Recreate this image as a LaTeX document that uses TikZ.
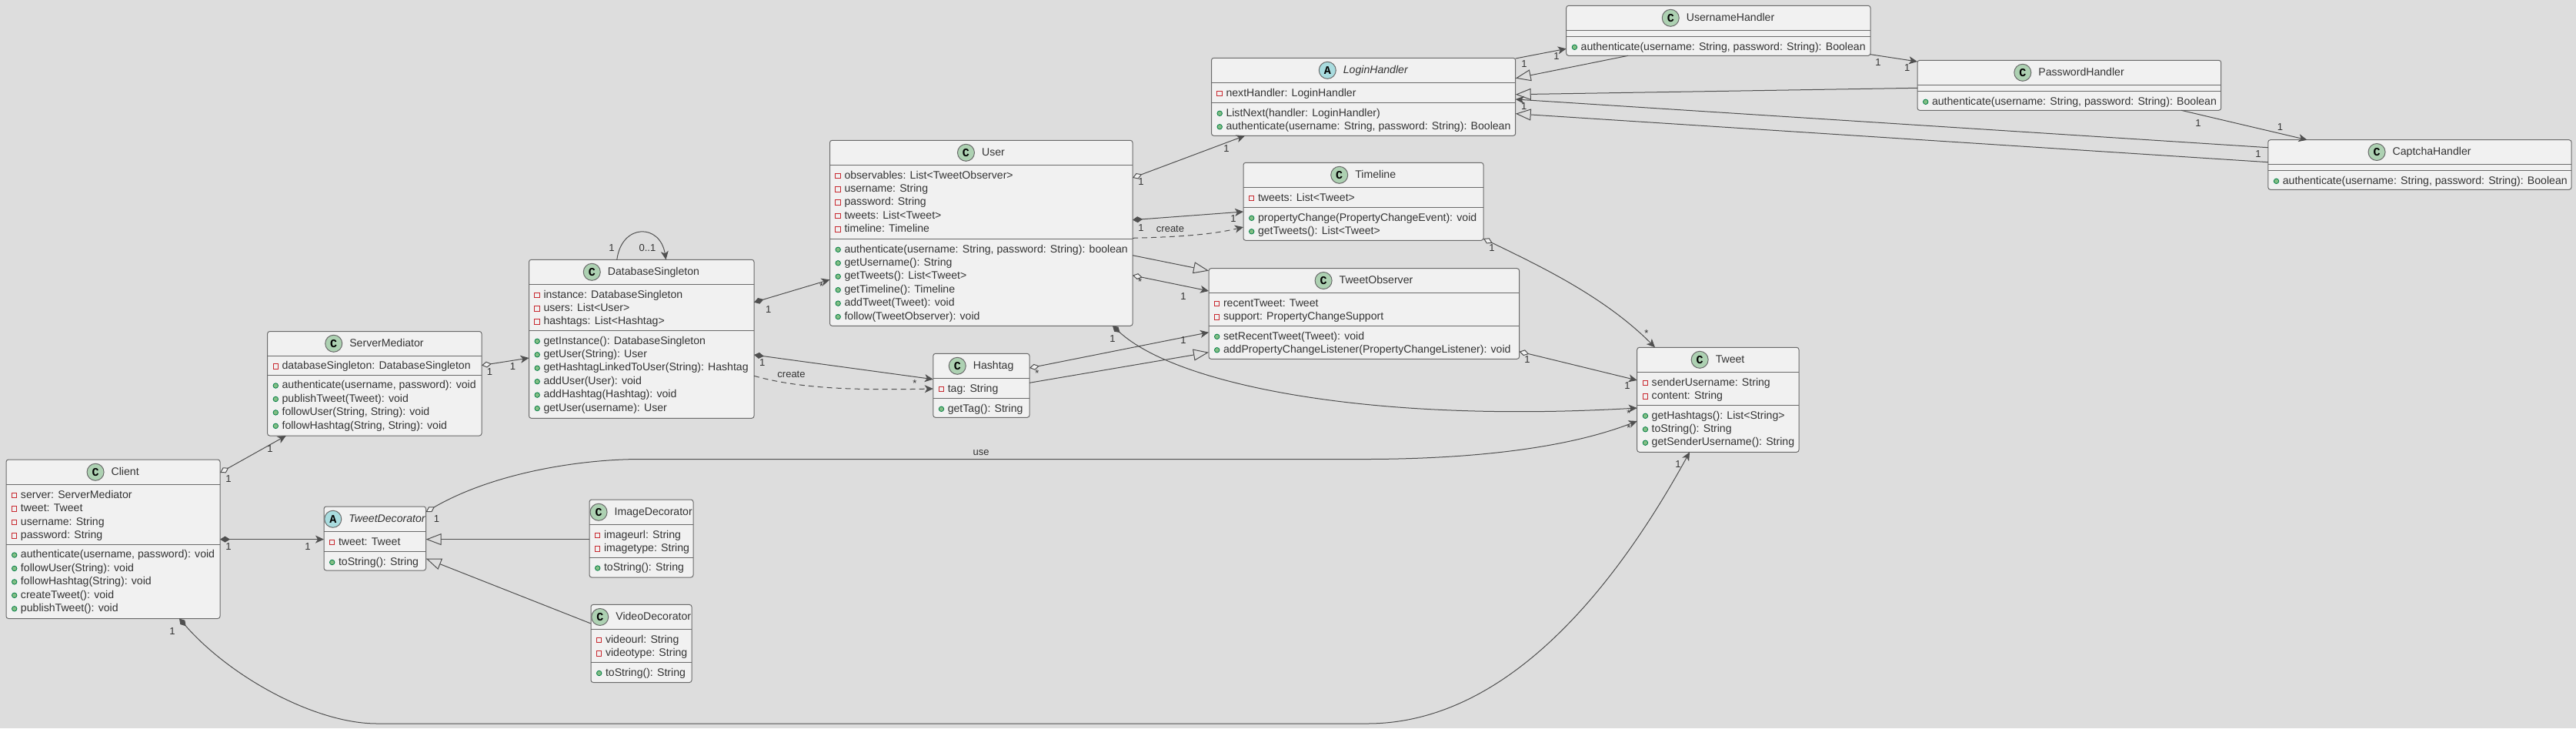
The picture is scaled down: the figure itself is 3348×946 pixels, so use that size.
\documentclass[tikz,border=0pt]{standalone}
\usepackage{fontspec}
\setmainfont{Liberation Sans}
\newfontfamily\iconfont{Liberation Mono}[Scale=1.0]
\usetikzlibrary{arrows.meta}
\definecolor{bgc}{HTML}{DDDDDD}
\definecolor{boxc}{HTML}{F1F1F1}
\definecolor{edgec}{HTML}{6A6A6A}
\definecolor{linkc}{HTML}{505050}
\definecolor{iconc}{HTML}{ADD1B2}
\definecolor{icona}{HTML}{A9DCDF}
\definecolor{privc}{HTML}{C82930}
\definecolor{pubf}{HTML}{84BE84}
\definecolor{pubd}{HTML}{038048}
\newcommand\rowfont{\fontsize{14.1}{17}\selectfont}
\newcommand\labfont{\fontsize{13}{15}\selectfont}
\tikzset{
  classbox/.style={draw=edgec,fill=boxc,line width=1pt,rounded corners=3pt,inner sep=0pt,outer sep=0pt,anchor=north west},
  sepline/.style={draw=edgec,line width=1pt},
  rowtext/.style={font=\rowfont,text=black!80,inner sep=0pt,anchor=west,text height=10.5pt,text depth=3pt},
  titletext/.style={font=\rowfont,text=black!80,inner sep=0pt,text height=10.5pt,text depth=3pt},
  iconnode/.style={circle,draw=edgec,line width=1pt,minimum size=22pt,inner sep=0pt,font=\iconfont\bfseries\fontsize{15}{15}\selectfont,text=black},
  privmark/.style={rectangle,draw=privc,line width=1pt,fill=none,minimum size=6.5pt,inner sep=0pt},
  pubmark/.style={circle,draw=pubd,line width=.8pt,fill=pubf,minimum size=6.5pt,inner sep=0pt},
  lablnode/.style={font=\labfont,text=black!80,inner sep=0pt},
  link/.style={draw=linkc,line width=1pt},
  comparrow/.style={link,arrows={Diamond[length=13pt,width=8pt]-Stealth[length=11pt,width=10pt,inset=3pt]}},
  aggarrow/.style={link,arrows={Diamond[length=13pt,width=8pt,fill=boxc]-Stealth[length=11pt,width=10pt,inset=3pt]}},
  plainarrow/.style={link,arrows={-Stealth[length=11pt,width=10pt,inset=3pt]}},
  deparrow/.style={plainarrow,dash pattern=on 7pt off 5pt},
  inheritarrow/.style={link,arrows={-Triangle[length=20pt,width=15pt,fill=bgc]}},
}
\newcounter{labc}
\newcommand\lab[3]{\stepcounter{labc}\node[lablnode] (lab\arabic{labc}) at (#1,#2) {#3};}
% id, x1, y1, x2, y2, header bottom, attribute bottom
\newcommand\umlbox[7]{%
  \node[classbox,minimum width={(#4-#2)*1pt},minimum height={(#5-#3)*1pt}] (#1) at (#2,#3) {};
  \draw[sepline] (#1.west |- 0,#6) -- (#1.east |- 0,#6);
  \draw[sepline] (#1.west |- 0,#7) -- (#1.east |- 0,#7);
  \coordinate (#1-hmid) at (#1.north |- 0,{(#3+#6)/2});
}
% id, letter, icon colour, title
\newcommand\umlhead[4]{%
  \node[titletext,xshift=15.7pt] (#1-title) at (#1-hmid) {#4};
  \node[iconnode,fill=#3,xshift=-20.4pt] (#1-icon) at (#1-title.west) {#2};
}
% id, kind (priv/pub), start y, rows
\newcommand\umlrows[4]{%
  \foreach \rowtxt [count=\rowidx from 0] in {#4} {
    \pgfmathsetmacro\rowy{#3+14+17.45*\rowidx}
    \node[#2mark,xshift=10.7pt] (#1-#2m-\rowidx) at (#1.west |- 0,\rowy) {};
    \node[rowtext,xshift=18.8pt] (#1-#2-\rowidx) at (#1.west |- 0,\rowy) {\rowtxt};
  }
}
\begin{document}
\begin{tikzpicture}[x=1pt,y=-1pt]
\useasboundingbox (0,0) rectangle (3348,946);
\fill[bgc] (0,0) rectangle (3348,946);

% classes
\umlbox{client}{8}{597}{286}{803.5}{629.5}{707}
\umlhead{client}{C}{iconc}{Client}
\umlrows{client}{priv}{629.5}{{server: ServerMediator},{tweet: Tweet},{username: String},{password: String}}
\umlrows{client}{pub}{707}{{authenticate(username, password): void},{followUser(String): void},{followHashtag(String): void},{createTweet(): void},{publishTweet(): void}}

\umlbox{server}{347.6}{430.5}{626}{566}{462}{487}
\umlhead{server}{C}{iconc}{ServerMediator}
\umlrows{server}{priv}{462}{{databaseSingleton: DatabaseSingleton}}
\umlrows{server}{pub}{487}{{authenticate(username, password): void},{publishTweet(Tweet): void},{followUser(String, String): void},{followHashtag(String, String): void}}

\umlbox{tdec}{421}{658}{553.6}{741}{690.5}{716.5}
\umlhead{tdec}{A}{icona}{\itshape TweetDecorator}
\umlrows{tdec}{priv}{690.5}{{tweet: Tweet}}
\umlrows{tdec}{pub}{716.5}{{toString(): String}}

\umlbox{idec}{766}{649}{901}{750}{681.5}{724}
\umlhead{idec}{C}{iconc}{ImageDecorator}
\umlrows{idec}{priv}{681.5}{{imageurl: String},{imagetype: String}}
\umlrows{idec}{pub}{724}{{toString(): String}}

\umlbox{vdec}{768}{785.4}{899}{886.5}{817.5}{860.5}
\umlhead{vdec}{C}{iconc}{VideoDecorator}
\umlrows{vdec}{priv}{817.5}{{videourl: String},{videotype: String}}
\umlrows{vdec}{pub}{860.5}{{toString(): String}}

\umlbox{dbs}{687.5}{337.3}{980}{543.3}{369.3}{429.3}
\umlhead{dbs}{C}{iconc}{DatabaseSingleton}
\umlrows{dbs}{priv}{369.3}{{instance: DatabaseSingleton},{users: List<User>},{hashtags: List<Hashtag>}}
\umlrows{dbs}{pub}{429.3}{{getInstance(): DatabaseSingleton},{getUser(String): User},{getHashtagLinkedToUser(String): Hashtag},{addUser(User): void},{addHashtag(Hashtag): void},{getUser(username): User}}

\umlbox{user}{1078.5}{182.3}{1472}{423.3}{214.3}{310.3}
\umlhead{user}{C}{iconc}{User}
\umlrows{user}{priv}{214.3}{{observables: List<TweetObserver>},{username: String},{password: String},{tweets: List<Tweet>},{timeline: Timeline}}
\umlrows{user}{pub}{310.3}{{authenticate(username: String, password: String): boolean},{getUsername(): String},{getTweets(): List<Tweet>},{getTimeline(): Timeline},{addTweet(Tweet): void},{follow(TweetObserver): void}}

\umlbox{hashtag}{1212.8}{459.3}{1338}{542.3}{491.3}{517.3}
\umlhead{hashtag}{C}{iconc}{Hashtag}
\umlrows{hashtag}{priv}{491.3}{{tag: String}}
\umlrows{hashtag}{pub}{517.3}{{getTag(): String}}

\umlbox{timeline}{1616}{211.3}{1928}{312.3}{243.3}{269.3}
\umlhead{timeline}{C}{iconc}{Timeline}
\umlrows{timeline}{priv}{243.3}{{tweets: List<Tweet>}}
\umlrows{timeline}{pub}{269.3}{{propertyChange(PropertyChangeEvent): void},{getTweets(): List<Tweet>}}

\umlbox{tobs}{1571}{348.7}{1974.6}{466.3}{380.3}{423.3}
\umlhead{tobs}{C}{iconc}{TweetObserver}
\umlrows{tobs}{priv}{380.3}{{recentTweet: Tweet},{support: PropertyChangeSupport}}
\umlrows{tobs}{pub}{423.3}{{setRecentTweet(Tweet): void},{addPropertyChangeListener(PropertyChangeListener): void}}

\umlbox{tweet}{2127.7}{451.3}{2338}{587.3}{483.3}{526.3}
\umlhead{tweet}{C}{iconc}{Tweet}
\umlrows{tweet}{priv}{483.3}{{senderUsername: String},{content: String}}
\umlrows{tweet}{pub}{526.3}{{getHashtags(): List<String>},{toString(): String},{getSenderUsername(): String}}

\umlbox{login}{1574.5}{75.3}{1969.7}{176.3}{107.3}{133.3}
\umlhead{login}{A}{icona}{\itshape LoginHandler}
\umlrows{login}{priv}{107.3}{{nextHandler: LoginHandler}}
\umlrows{login}{pub}{133.3}{{ListNext(handler: LoginHandler)},{authenticate(username: String, password: String): Boolean}}

\umlbox{uhand}{2035.7}{7.3}{2431}{72.3}{39.3}{47.3}
\umlhead{uhand}{C}{iconc}{UsernameHandler}
\umlrows{uhand}{pub}{47.3}{{authenticate(username: String, password: String): Boolean}}

\umlbox{phand}{2492}{78.3}{2886.7}{143.3}{110.3}{118.3}
\umlhead{phand}{C}{iconc}{PasswordHandler}
\umlrows{phand}{pub}{118.3}{{authenticate(username: String, password: String): Boolean}}

\umlbox{chand}{2947.8}{181.7}{3342}{246.3}{213.3}{221.3}
\umlhead{chand}{C}{iconc}{CaptchaHandler}
\umlrows{chand}{pub}{221.3}{{authenticate(username: String, password: String): Boolean}}

% connectors
\draw[aggarrow] (client.east |- 0,614) -- (371.8,0 |- server.south);
\lab{297}{622}{1}\lab{351}{583}{1}
\draw[aggarrow] (server.east |- 0,474.6) -- (dbs.west |- 0,465);
\lab{636.5}{483}{1}\lab{666.5}{476}{1}
\draw[comparrow] (client.east |- 0,700.6) -- (tdec.west |- 0,700.6);
\lab{297}{709.6}{1}\lab{400}{709.6}{1}
\draw[aggarrow] (tdec.east |- 0,665) .. controls (640,615) and (750,597) .. (830,596.5) -- (1780,596.5) .. controls (1900,596) and (2030,585) .. (tweet.west |- 0,547);
\lab{567.6}{674}{1}\lab{2117}{555.7}{*}\lab{1275}{588}{use}
\draw[inheritarrow] (idec.west |- 0,700.6) -- (tdec.east |- 0,700.6);
\draw[inheritarrow] (vdec.west |- 0,810) -- (tdec.east |- 0,725.5);
\draw[comparrow] (233,0 |- client.south) .. controls (300,880) and (410,940) .. (490,940) -- (1777,940) .. controls (1950,940) and (2090,780) .. (2196,0 |- tweet.south);
\lab{224}{820}{1}\lab{2181}{603}{1}
\draw[plainarrow] (801.8,0 |- dbs.north) .. controls (808,290) and (858,290) .. (865.5,0 |- dbs.north);
\lab{795}{321.7}{1}\lab{841.4}{321.7}{0..1}
\draw[comparrow] (dbs.east |- 0,392.7) -- (user.west |- 0,363.3);
\lab{998.7}{401.7}{1}\lab{1067.6}{372.3}{*}
\draw[comparrow] (dbs.east |- 0,461) -- (hashtag.west |- 0,492.7);
\lab{990.7}{470.7}{1}\lab{1189}{498}{*}
\draw[deparrow] (dbs.east |- 0,488.3) .. controls (1040,505) and (1110,507) .. (hashtag.west |- 0,505);
\lab{1028.5}{486}{create}
\draw[aggarrow] (user.east |- 0,231) -- (1618,0 |- login.south);
\lab{1483}{235.7}{1}\lab{1594}{193}{1}
\draw[comparrow] (user.east |- 0,285.7) -- (timeline.west |- 0,275);
\lab{1483}{295.7}{1}\lab{1603}{284}{1}
\draw[deparrow] (user.east |- 0,309.3) .. controls (1520,308) and (1570,306) .. (timeline.west |- 0,295);
\lab{1521}{297.7}{create}
\draw[inheritarrow] (user.east |- 0,331.7) -- (tobs.west |- 0,351.7);
\draw[aggarrow] (user.east |- 0,357.7) -- (tobs.west |- 0,378);
\lab{1481.6}{365.7}{*}\lab{1538}{385}{1}
\draw[comparrow] (1446,0 |- user.south) .. controls (1530,500) and (1780,550) .. (tweet.west |- 0,530);
\lab{1446}{440}{1}\lab{2117}{536.7}{*}
\draw[aggarrow] (hashtag.east |- 0,478) -- (tobs.west |- 0,431.7);
\lab{1348}{485}{*}\lab{1538}{442}{1}
\draw[inheritarrow] (hashtag.east |- 0,497.3) -- (tobs.west |- 0,457.7);
\draw[aggarrow] (timeline.east |- 0,310) .. controls (2000,345) and (2085,385) .. (2151,0 |- tweet.north);
\lab{1939}{321.7}{1}\lab{2140}{432.7}{*}
\draw[aggarrow] (tobs.east |- 0,456.7) -- (tweet.west |- 0,494);
\lab{1985}{467}{1}\lab{2115}{501}{1}
\draw[plainarrow] (login.east |- 0,76) -- (uhand.west |- 0,63.3);
\lab{1981}{83.3}{1}\lab{2023}{73.3}{1}
\draw[inheritarrow] (2116,0 |- uhand.south) -- (login.east |- 0,101.7);
\draw[inheritarrow] (phand.west |- 0,114.3) -- (login.east |- 0,122.7);
\draw[plainarrow] (chand.west |- 0,191.7) -- (login.east |- 0,129);
\lab{1980.6}{137.7}{1}\lab{2935}{200}{1}
\draw[inheritarrow] (chand.west |- 0,210.7) -- (login.east |- 0,147.7);
\draw[plainarrow] (uhand.east |- 0,70.7) -- (phand.west |- 0,80);
\lab{2441}{81}{1}\lab{2478.6}{88.3}{1}
\draw[plainarrow] (2835,0 |- phand.south) -- (2998.5,0 |- chand.north);
\lab{2857}{160}{1}\lab{2963.5}{165}{1}
\end{tikzpicture}
\end{document}
